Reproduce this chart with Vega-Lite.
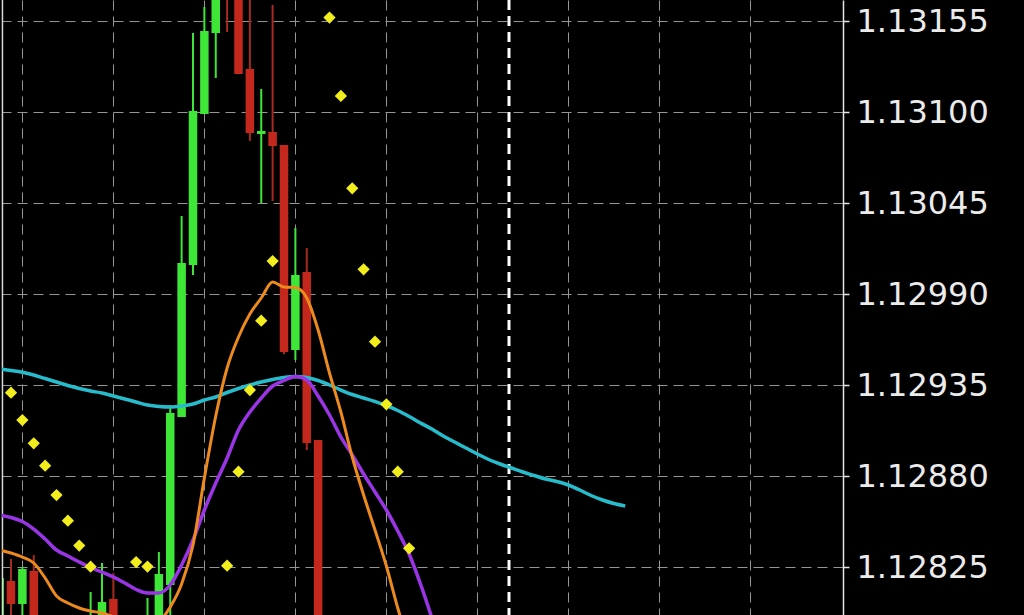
{
  "$schema": "https://vega.github.io/schema/vega-lite/v6.json",
  "width": 841,
  "height": 615,
  "autosize": {"type": "none"},
  "padding": {"left": 2, "top": 0, "right": 181, "bottom": 0},
  "background": "#000000",
  "config": {"view": {"stroke": null}},
  "datasets": {
    "candles": [
      {"k": -1, "open": 1.12787, "high": 1.1281853, "low": 1.12778, "close": 1.1281853, "dir": "up"},
      {"k": 0, "open": 1.1281671, "high": 1.1283001, "low": 1.12778, "close": 1.1280281, "dir": "down"},
      {"k": 1, "open": 1.1280281, "high": 1.1282518, "low": 1.1278, "close": 1.1282397, "dir": "up"},
      {"k": 2, "open": 1.1282276, "high": 1.1283243, "low": 1.12775, "close": 1.12785, "dir": "down"},
      {"k": 7, "open": 1.12784, "high": 1.1281007, "low": 1.12775, "close": 1.12792, "dir": "up"},
      {"k": 8, "open": 1.12788, "high": 1.1282759, "low": 1.1278, "close": 1.1280402, "dir": "up"},
      {"k": 9, "open": 1.1280583, "high": 1.1282155, "low": 1.1278, "close": 1.12788, "dir": "down"},
      {"k": 12, "open": 1.12786, "high": 1.1280644, "low": 1.12782, "close": 1.12794, "dir": "up"},
      {"k": 13, "open": 1.1279, "high": 1.1283424, "low": 1.12785, "close": 1.1282094, "dir": "up"},
      {"k": 14, "open": 1.128143, "high": 1.1292309, "low": 1.1279, "close": 1.1291825, "dir": "up"},
      {"k": 15, "open": 1.1291584, "high": 1.1303732, "low": 1.1291584, "close": 1.1300891, "dir": "up"},
      {"k": 16, "open": 1.130077, "high": 1.1314792, "low": 1.1300166, "close": 1.1310078, "dir": "up"},
      {"k": 17, "open": 1.1309897, "high": 1.1316364, "low": 1.1309897, "close": 1.1314913, "dir": "up"},
      {"k": 18, "open": 1.1314792, "high": 1.1319, "low": 1.1312073, "close": 1.1318, "dir": "up"},
      {"k": 19, "open": 1.13205, "high": 1.13212, "low": 1.1314853, "close": 1.13174, "dir": "down"},
      {"k": 20, "open": 1.13195, "high": 1.132, "low": 1.1312314, "close": 1.1312314, "dir": "down"},
      {"k": 21, "open": 1.1312617, "high": 1.13174, "low": 1.1308265, "close": 1.1308748, "dir": "down"},
      {"k": 22, "open": 1.1308688, "high": 1.1311408, "low": 1.1304518, "close": 1.1308869, "dir": "up"},
      {"k": 23, "open": 1.1308809, "high": 1.1316485, "low": 1.1304639, "close": 1.1307963, "dir": "down"},
      {"k": 24, "open": 1.1308023, "high": 1.1308023, "low": 1.1295391, "close": 1.1295512, "dir": "down"},
      {"k": 25, "open": 1.1295633, "high": 1.1303007, "low": 1.1295029, "close": 1.1300166, "dir": "up"},
      {"k": 26, "open": 1.1300347, "high": 1.1301798, "low": 1.1289589, "close": 1.1290012, "dir": "down"},
      {"k": 27, "open": 1.1290193, "high": 1.1290193, "low": 1.12755, "close": 1.12765, "dir": "down"}
    ],
    "ma": [
      {"k": -1, "cyan": 1.1294485, "purple": 1.128566, "orange": 1.1283545},
      {"k": 0, "cyan": 1.1294394, "purple": 1.1285509, "orange": 1.1283364},
      {"k": 1, "cyan": 1.1294285, "purple": 1.1285267, "orange": 1.1283122},
      {"k": 2, "cyan": 1.1294122, "purple": 1.1284814, "orange": 1.1282759},
      {"k": 3, "cyan": 1.129391, "purple": 1.128421, "orange": 1.1281853},
      {"k": 4, "cyan": 1.1293699, "purple": 1.1283545, "orange": 1.1280765},
      {"k": 5, "cyan": 1.1293487, "purple": 1.1283182, "orange": 1.1280342},
      {"k": 6, "cyan": 1.1293306, "purple": 1.128282, "orange": 1.1280039},
      {"k": 7, "cyan": 1.1293155, "purple": 1.1282487, "orange": 1.1279858},
      {"k": 8, "cyan": 1.1293034, "purple": 1.1282215, "orange": 1.1279737},
      {"k": 9, "cyan": 1.1292853, "purple": 1.1281913, "orange": 1.1279496},
      {"k": 10, "cyan": 1.1292671, "purple": 1.128155, "orange": 1.1279072},
      {"k": 11, "cyan": 1.129249, "purple": 1.1281158, "orange": 1.1278831},
      {"k": 12, "cyan": 1.1292309, "purple": 1.1280946, "orange": 1.1278831},
      {"k": 13, "cyan": 1.1292218, "purple": 1.1280946, "orange": 1.1279193},
      {"k": 14, "cyan": 1.1292188, "purple": 1.128143, "orange": 1.12801},
      {"k": 15, "cyan": 1.1292248, "purple": 1.1282638, "orange": 1.128149},
      {"k": 16, "cyan": 1.1292369, "purple": 1.1284149, "orange": 1.1283847},
      {"k": 17, "cyan": 1.1292611, "purple": 1.1285963, "orange": 1.1287897},
      {"k": 18, "cyan": 1.1292792, "purple": 1.1287594, "orange": 1.1291644},
      {"k": 19, "cyan": 1.1293064, "purple": 1.1289105, "orange": 1.1294545},
      {"k": 20, "cyan": 1.1293306, "purple": 1.1290798, "orange": 1.1296419},
      {"k": 21, "cyan": 1.1293518, "purple": 1.1291886, "orange": 1.1297809},
      {"k": 22, "cyan": 1.1293699, "purple": 1.1292732, "orange": 1.1298776},
      {"k": 23, "cyan": 1.129385, "purple": 1.1293457, "orange": 1.1299743},
      {"k": 24, "cyan": 1.1293971, "purple": 1.129379, "orange": 1.1299441},
      {"k": 25, "cyan": 1.1294031, "purple": 1.1294031, "orange": 1.129941},
      {"k": 26, "cyan": 1.1293971, "purple": 1.129382, "orange": 1.1298776},
      {"k": 27, "cyan": 1.129379, "purple": 1.1292853, "orange": 1.1296842},
      {"k": 28, "cyan": 1.1293518, "purple": 1.1291704, "orange": 1.1294243},
      {"k": 29, "cyan": 1.1293215, "purple": 1.1290375, "orange": 1.1291886},
      {"k": 30, "cyan": 1.1292943, "purple": 1.1289287, "orange": 1.1289166},
      {"k": 31, "cyan": 1.1292732, "purple": 1.1288138, "orange": 1.1286869},
      {"k": 32, "cyan": 1.129252, "purple": 1.1287051, "orange": 1.1284754},
      {"k": 33, "cyan": 1.1292279, "purple": 1.1285963, "orange": 1.1282578},
      {"k": 34, "cyan": 1.1291976, "purple": 1.1284693, "orange": 1.1280039},
      {"k": 35, "cyan": 1.1291614, "purple": 1.1283303, "orange": 1.1277803},
      {"k": 36, "cyan": 1.1291221, "purple": 1.128149, "orange": null},
      {"k": 37, "cyan": 1.1290858, "purple": 1.1279435, "orange": null},
      {"k": 38, "cyan": 1.1290435, "purple": 1.1277199, "orange": null},
      {"k": 39, "cyan": 1.1290073, "purple": null, "orange": null},
      {"k": 40, "cyan": 1.128971, "purple": null, "orange": null},
      {"k": 41, "cyan": 1.1289347, "purple": null, "orange": null},
      {"k": 42, "cyan": 1.1289015, "purple": null, "orange": null},
      {"k": 43, "cyan": 1.1288743, "purple": null, "orange": null},
      {"k": 44, "cyan": 1.1288501, "purple": null, "orange": null},
      {"k": 45, "cyan": 1.1288259, "purple": null, "orange": null},
      {"k": 46, "cyan": 1.1288048, "purple": null, "orange": null},
      {"k": 47, "cyan": 1.1287836, "purple": null, "orange": null},
      {"k": 48, "cyan": 1.1287685, "purple": null, "orange": null},
      {"k": 49, "cyan": 1.1287474, "purple": null, "orange": null},
      {"k": 50, "cyan": 1.1287171, "purple": null, "orange": null},
      {"k": 51, "cyan": 1.1286839, "purple": null, "orange": null},
      {"k": 52, "cyan": 1.1286567, "purple": null, "orange": null},
      {"k": 53, "cyan": 1.1286355, "purple": null, "orange": null},
      {"k": 54, "cyan": 1.1286204, "purple": null, "orange": null}
    ],
    "sar": [
      {"k": 0, "sar": 1.1293052},
      {"k": 1, "sar": 1.1291402},
      {"k": 2, "sar": 1.1289994},
      {"k": 3, "sar": 1.128864},
      {"k": 4, "sar": 1.1286869},
      {"k": 5, "sar": 1.1285316},
      {"k": 6, "sar": 1.1283817},
      {"k": 7, "sar": 1.1282536},
      {"k": 11, "sar": 1.128282},
      {"k": 12, "sar": 1.1282548},
      {"k": 19, "sar": 1.1282596},
      {"k": 20, "sar": 1.1288277},
      {"k": 21, "sar": 1.1293215},
      {"k": 22, "sar": 1.1297404},
      {"k": 23, "sar": 1.1301012},
      {"k": 28, "sar": 1.1315729},
      {"k": 29, "sar": 1.1310985},
      {"k": 30, "sar": 1.1305406},
      {"k": 31, "sar": 1.130051},
      {"k": 32, "sar": 1.1296135},
      {"k": 33, "sar": 1.1292351},
      {"k": 34, "sar": 1.1288277},
      {"k": 35, "sar": 1.1283648}
    ]
  },
  "layer": [
    {
      "data": {"name": "candles"},
      "mark": {"type": "rule", "strokeWidth": 2, "clip": true},
      "encoding": {
        "x": {
          "field": "k", "type": "quantitative", "title": null,
          "scale": {"domain": [-0.7912, 73.143], "nice": false, "zero": false},
          "axis": {"orient": "bottom", "values": [1, 9, 17, 25, 33, 41, 49, 57, 65], "labels": false, "ticks": false, "domain": false, "grid": true, "gridColor": "#969696", "gridDash": [10, 6], "gridWidth": 1}
        },
        "y": {
          "field": "low", "type": "quantitative", "title": null,
          "scale": {"domain": [1.1279617, 1.1316787], "nice": false, "zero": false},
          "axis": {"orient": "right", "values": [1.12825, 1.1288, 1.12935, 1.1299, 1.13045, 1.131, 1.13155], "format": ".5f", "grid": true, "gridColor": "#969696", "gridDash": [10, 6], "gridWidth": 1, "domain": true, "domainColor": "#e6e6e6", "domainWidth": 1.5, "ticks": true, "tickColor": "#e6e6e6", "tickSize": 6, "tickWidth": 1.5, "labelFont": "DejaVu Sans", "labelFontSize": 32, "labelColor": "#ebebeb", "labelPadding": 7}
        },
        "y2": {"field": "high"},
        "color": {"condition": {"test": "datum.dir === 'up'", "value": "#3de637"}, "value": "#a52b1f"}
      }
    },
    {
      "data": {"name": "candles"},
      "mark": {"type": "rule", "strokeWidth": 8.5, "strokeCap": "butt", "clip": true},
      "encoding": {
        "x": {"field": "k", "type": "quantitative", "title": null},
        "y": {"field": "open", "type": "quantitative", "title": null},
        "y2": {"field": "close"},
        "color": {"condition": {"test": "datum.dir === 'up'", "value": "#3de637"}, "value": "#c4281c"}
      }
    },
    {
      "data": {"values": [{"line": "border"}]},
      "mark": {"type": "rule", "color": "#d8d8d8", "strokeWidth": 1.5},
      "encoding": {"x": {"datum": -0.75, "type": "quantitative", "title": null}}
    },
    {
      "data": {"values": [{"line": "separator"}]},
      "mark": {"type": "rule", "color": "#ffffff", "strokeWidth": 3, "strokeDash": [10, 6]},
      "encoding": {"x": {"datum": 43.78, "type": "quantitative", "title": null}}
    },
    {
      "data": {"name": "ma"},
      "mark": {"type": "line", "color": "#27bccb", "strokeWidth": 3.5, "interpolate": "monotone", "clip": true},
      "encoding": {
        "x": {"field": "k", "type": "quantitative", "title": null},
        "y": {"field": "cyan", "type": "quantitative", "title": null}
      }
    },
    {
      "data": {"name": "ma"},
      "mark": {"type": "line", "color": "#9a35e6", "strokeWidth": 3.5, "interpolate": "monotone", "clip": true},
      "encoding": {
        "x": {"field": "k", "type": "quantitative", "title": null},
        "y": {"field": "purple", "type": "quantitative", "title": null}
      }
    },
    {
      "data": {"name": "ma"},
      "mark": {"type": "line", "color": "#ec8a1e", "strokeWidth": 3, "interpolate": "monotone", "clip": true},
      "encoding": {
        "x": {"field": "k", "type": "quantitative", "title": null},
        "y": {"field": "orange", "type": "quantitative", "title": null}
      }
    },
    {
      "data": {"name": "sar"},
      "mark": {"type": "point", "shape": "diamond", "filled": true, "size": 150, "color": "#f2ee1e", "opacity": 1, "clip": true},
      "encoding": {
        "x": {"field": "k", "type": "quantitative", "title": null},
        "y": {"field": "sar", "type": "quantitative", "title": null}
      }
    }
  ]
}
